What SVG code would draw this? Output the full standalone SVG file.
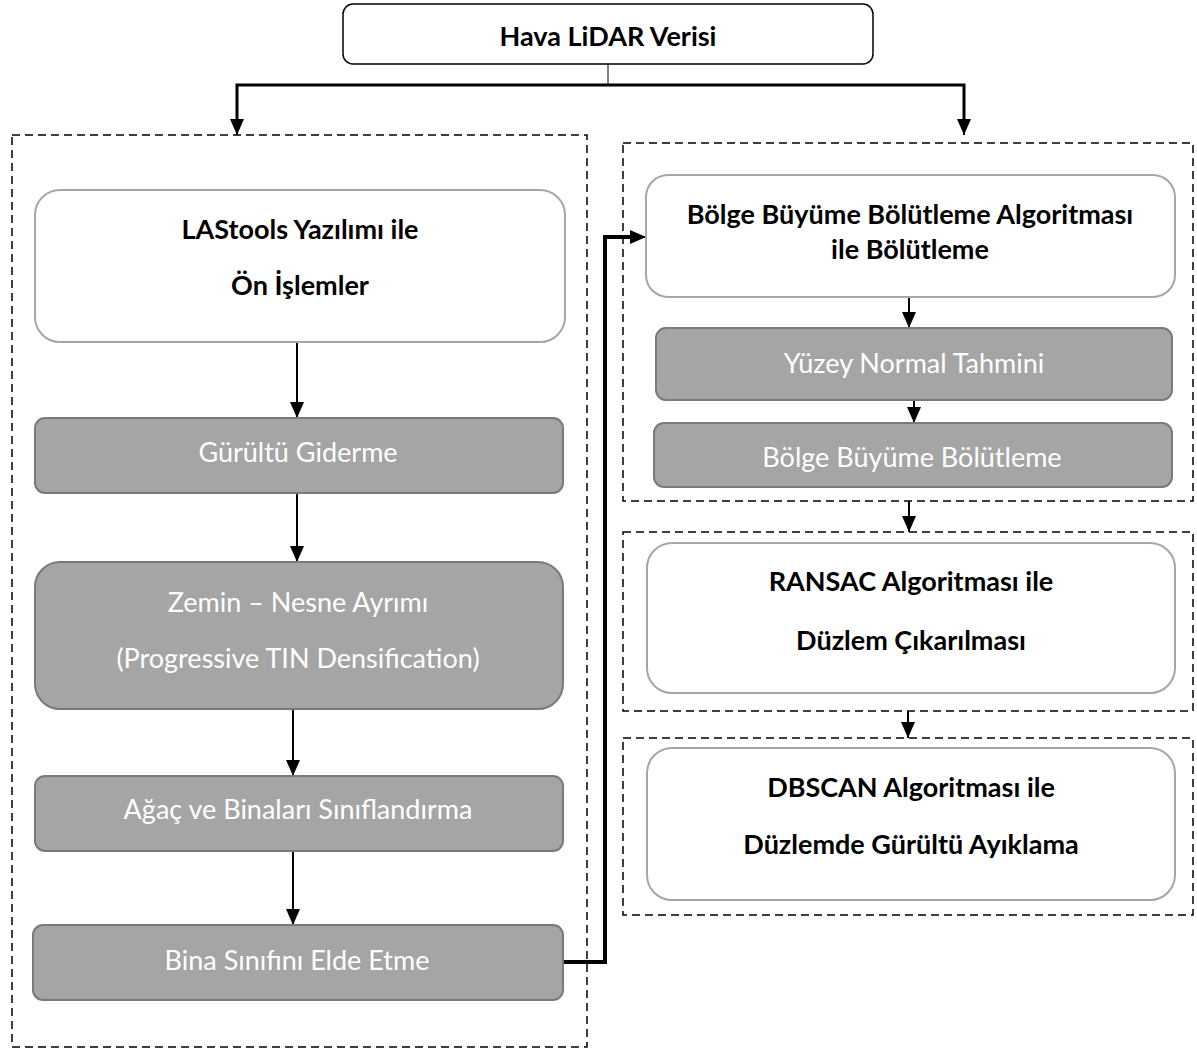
<svg xmlns="http://www.w3.org/2000/svg" width="1197" height="1052" viewBox="0 0 1197 1052">
<defs>
<marker id="ah" viewBox="0 0 16 14" refX="16" refY="7" markerWidth="16" markerHeight="14" markerUnits="userSpaceOnUse" orient="auto"><path d="M0,0 L16,7 L0,14 z" fill="#000"/></marker>
</defs>
<style>
text{font-family:Lato,"Open Sans","Liberation Sans",sans-serif;font-size:27px;text-anchor:middle;dominant-baseline:central}
.b{font-weight:bold;fill:#000}
.w{fill:#fff}
.white{fill:#fff;stroke:#a6a6a6;stroke-width:2}
.grey{fill:#a5a5a5;stroke:#7a7a7a;stroke-width:2}
.dash{fill:none;stroke:#000;stroke-width:1.5;stroke-dasharray:8,5}
.c{fill:none;stroke:#000;stroke-width:2;marker-end:url(#ah)}
.thick{fill:none;stroke:#000;stroke-width:3}
.th4{fill:none;stroke:#000;stroke-width:4}
</style>
<rect width="1197" height="1052" fill="#fff"/>
<g id="groups">
<rect class="dash" x="12" y="135" width="575" height="912"/>
<rect class="dash" x="623" y="143" width="570" height="358"/>
<rect class="dash" x="623" y="532" width="570" height="179"/>
<rect class="dash" x="623" y="738" width="570" height="177"/>
</g>
<g id="connectors">
<line x1="608" y1="64" x2="608" y2="85" stroke="#000" stroke-width="1"/>
<polyline class="thick" points="237,128 237,85 964,85 964,128"/>
<line class="c" x1="237" y1="120" x2="237" y2="135"/>
<line class="c" x1="964" y1="120" x2="964" y2="135"/>
<line class="c" x1="297" y1="342" x2="297" y2="418"/>
<line class="c" x1="297" y1="493" x2="297" y2="562"/>
<line class="c" x1="293" y1="709" x2="293" y2="776"/>
<line class="c" x1="293" y1="851" x2="293" y2="925"/>
<polyline class="th4" points="563,962 605,962 605,237 636,237"/>
<line class="c" x1="630" y1="237" x2="646" y2="237"/>
<line class="c" x1="909" y1="297" x2="909" y2="328"/>
<line class="c" x1="914" y1="400" x2="914" y2="423"/>
<line class="c" x1="909" y1="501" x2="909" y2="532"/>
<line class="c" x1="908" y1="711" x2="908" y2="738"/>
</g>
<g id="n-lidar">
<rect x="343" y="4" width="530" height="60" rx="10" fill="#fff" stroke="#000" stroke-width="1.5"/>
<text class="b" x="608" y="35">Hava LiDAR Verisi</text>
</g>
<g id="n-lastools">
<rect class="white" x="35" y="190" width="530" height="152" rx="25"/>
<text class="b" x="300" y="228">LAStools Yazılımı ile</text>
<text class="b" x="300" y="284">Ön İşlemler</text>
</g>
<g id="n-gurultu">
<rect class="grey" x="35" y="418" width="528" height="75" rx="10"/>
<text class="w" x="298" y="451">Gürültü Giderme</text>
</g>
<g id="n-zemin">
<rect class="grey" x="35" y="562" width="528" height="147" rx="25"/>
<text class="w" x="298" y="601">Zemin – Nesne Ayrımı</text>
<text class="w" x="298" y="657">(Progressive TIN Densification)</text>
</g>
<g id="n-agac">
<rect class="grey" x="35" y="776" width="528" height="75" rx="10"/>
<text class="w" x="298" y="808">Ağaç ve Binaları Sınıflandırma</text>
</g>
<g id="n-bina">
<rect class="grey" x="33" y="925" width="530" height="75" rx="10"/>
<text class="w" x="297" y="959">Bina Sınıfını Elde Etme</text>
</g>
<g id="n-bolge-alg">
<rect class="white" x="646" y="175" width="529" height="122" rx="22"/>
<text class="b" x="910" y="213">Bölge Büyüme Bölütleme Algoritması</text>
<text class="b" x="910" y="248">ile Bölütleme</text>
</g>
<g id="n-yuzey">
<rect class="grey" x="656" y="328" width="516" height="72" rx="10"/>
<text class="w" x="914" y="362">Yüzey Normal Tahmini</text>
</g>
<g id="n-bolge">
<rect class="grey" x="654" y="423" width="518" height="64" rx="10"/>
<text class="w" x="912" y="456">Bölge Büyüme Bölütleme</text>
</g>
<g id="n-ransac">
<rect class="white" x="647" y="543" width="528" height="150" rx="25"/>
<text class="b" x="911" y="580">RANSAC Algoritması ile</text>
<text class="b" x="911" y="639">Düzlem Çıkarılması</text>
</g>
<g id="n-dbscan">
<rect class="white" x="647" y="748" width="528" height="152" rx="25"/>
<text class="b" x="911" y="786">DBSCAN Algoritması ile</text>
<text class="b" x="911" y="843">Düzlemde Gürültü Ayıklama</text>
</g>
</svg>
